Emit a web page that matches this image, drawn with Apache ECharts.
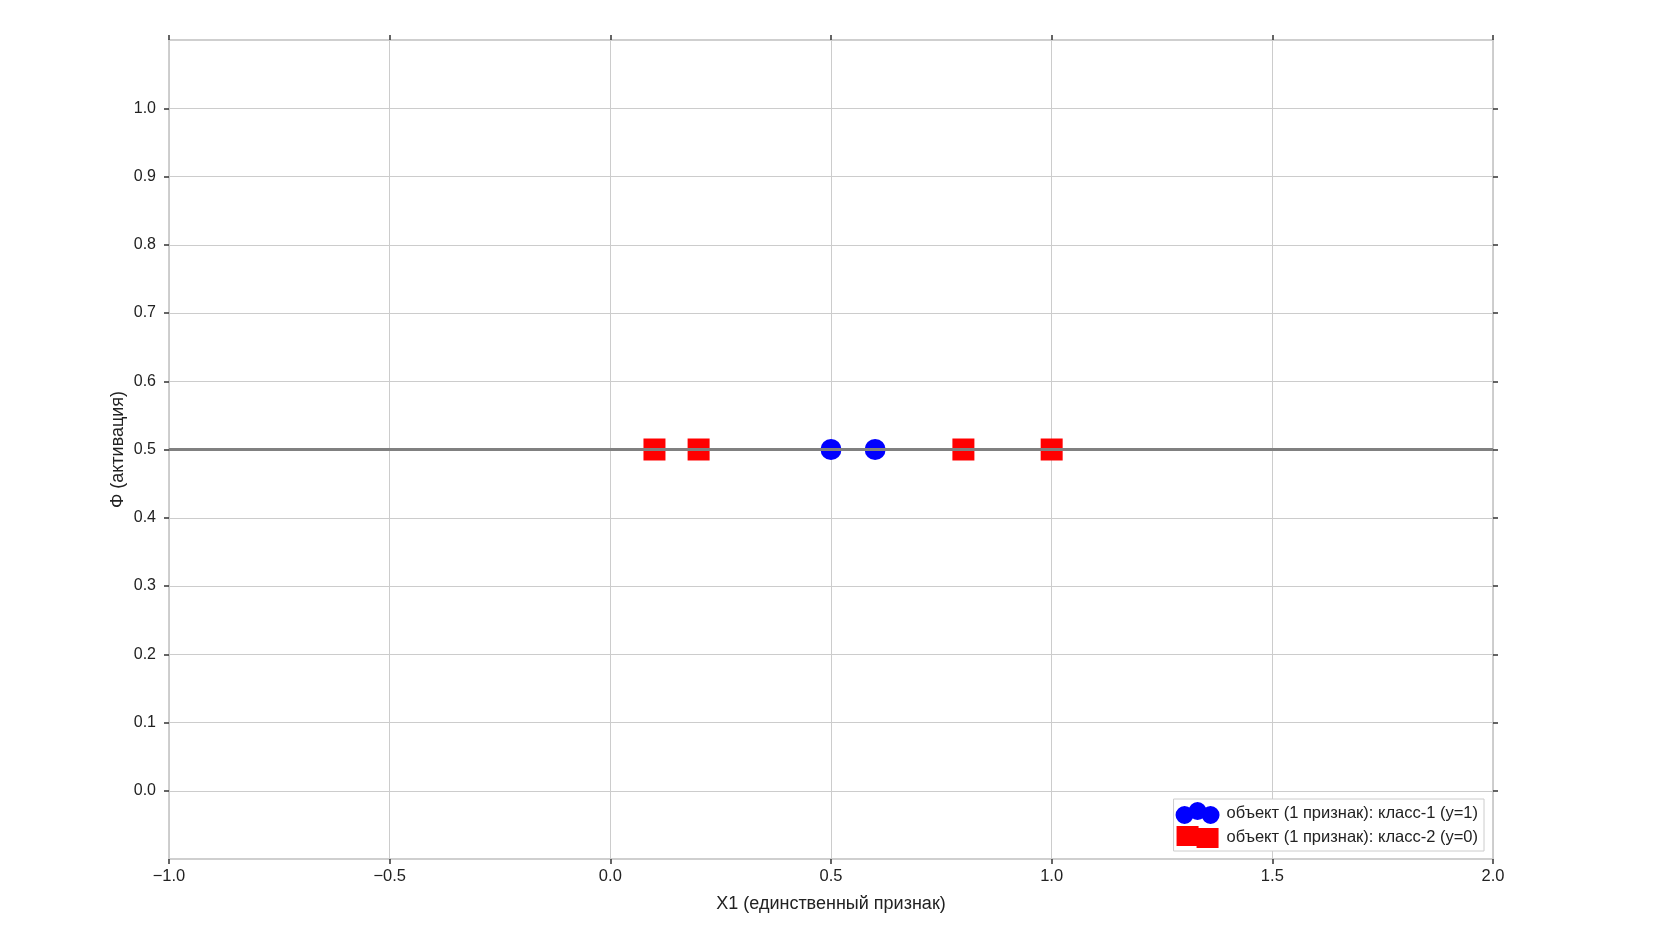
<!DOCTYPE html>
<html>
<head>
<meta charset="utf-8">
<script src="https://cdn.jsdelivr.net/npm/echarts@6/dist/echarts.min.js"></script>
<style>
html,body{margin:0;padding:0;background:#fff;}
#chart{width:1654px;height:930px;}
</style>
</head>
<body>
<div id="chart"></div>
<script>
// Data
const class1X = [0.5, 0.6];
const class1Y = [0.5, 0.5];
const class2X = [0.1, 0.2, 0.8, 1.0];
const class2Y = [0.5, 0.5, 0.5, 0.5];
const thresholdX = [-1.0, 2.0];
const thresholdY = [0.5, 0.5];
const xTicks = [-1.0, -0.5, 0.0, 0.5, 1.0, 1.5, 2.0];
const yTicks = [0.0, 0.1, 0.2, 0.3, 0.4, 0.5, 0.6, 0.7, 0.8, 0.9, 1.0];
const seriesNames = ['объект (1 признак): класс-1 (y=1)', 'объект (1 признак): класс-2 (y=0)'];
const xName = 'X1 (единственный признак)';
const yName = 'Φ (активация)';

const zip = (xs, ys) => xs.map((x, i) => [x, ys[i]]);
const font = 'Liberation Sans, Arial, sans-serif';
const tickColor = '#333';
const frameColor = '#cccccc';

const circlesIcon = 'path://M0,13a9,9 0 1,0 18,0a9,9 0 1,0 -18,0Z M13,9a9,9 0 1,0 18,0a9,9 0 1,0 -18,0Z M26,13a9,9 0 1,0 18,0a9,9 0 1,0 -18,0Z';
const squaresIcon = 'path://M0,0h22v20h-22Z M20,2h22v20h-22Z';

const tickAxisLine = { show: true, onZero: false, lineStyle: { color: frameColor, width: 1.5 } };

const chart = echarts.init(document.getElementById('chart'));
chart.setOption({
  animation: false,
  backgroundColor: '#fff',
  grid: {
    left: 169, right: 161, top: 40, bottom: 71,
    show: true, borderColor: frameColor, borderWidth: 1.5
  },
  legend: {
    right: 170, bottom: 79,
    orient: 'vertical',
    data: [
      { name: seriesNames[0], icon: circlesIcon },
      { name: seriesNames[1], icon: squaresIcon }
    ],
    itemWidth: 44, itemHeight: 22, itemGap: 2,
    padding: [3, 6, 3, 2],
    borderColor: frameColor, borderWidth: 1,
    backgroundColor: '#fff',
    textStyle: { fontFamily: font, fontSize: 16.5, color: '#222', padding: [0, 0, 0, 2] }
  },
  xAxis: [{
    type: 'value', position: 'bottom',
    min: -1.0, max: 2.0, interval: 0.5,
    name: xName, nameLocation: 'middle', nameGap: 36, nameMoveOverlap: false,
    nameTextStyle: { fontFamily: font, fontSize: 18, color: '#222' },
    axisLine: tickAxisLine,
    axisTick: { show: true, length: 5, lineStyle: { color: tickColor, width: 1.5 }, customValues: xTicks },
    axisLabel: { fontFamily: font, fontSize: 16.5, color: '#222', margin: 9,
      customValues: xTicks,
      formatter: v => (v < 0 ? '\u2212' : '') + Math.abs(v).toFixed(1) },
    splitLine: { show: true, lineStyle: { color: frameColor, width: 1 } }
  }, {
    type: 'value', position: 'top',
    min: -1.0, max: 2.0, interval: 0.5,
    axisLine: tickAxisLine,
    axisTick: { show: true, length: 5, lineStyle: { color: tickColor, width: 1.5 }, customValues: xTicks },
    axisLabel: { show: false },
    splitLine: { show: false }
  }],
  yAxis: [{
    type: 'value', position: 'left',
    min: -0.1, max: 1.1, interval: 0.1,
    name: yName, nameLocation: 'middle', nameGap: 42, nameRotate: 90, nameMoveOverlap: false,
    nameTextStyle: { fontFamily: font, fontSize: 18, color: '#222' },
    axisLine: tickAxisLine,
    axisTick: { show: true, length: 5, lineStyle: { color: tickColor, width: 1.5 }, customValues: yTicks },
    axisLabel: { fontFamily: font, fontSize: 16, color: '#222', margin: 13,
      customValues: yTicks,
      formatter: v => v.toFixed(1) },
    splitLine: { show: true, lineStyle: { color: frameColor, width: 1 } }
  }, {
    type: 'value', position: 'right',
    min: -0.1, max: 1.1, interval: 0.1,
    axisLine: tickAxisLine,
    axisTick: { show: true, length: 5, lineStyle: { color: tickColor, width: 1.5 }, customValues: yTicks },
    axisLabel: { show: false },
    splitLine: { show: false }
  }],
  series: [{
    name: seriesNames[0], type: 'scatter',
    data: zip(class1X, class1Y),
    symbol: 'circle', symbolSize: 21,
    itemStyle: { color: '#0000ff', opacity: 1 },
    z: 2
  }, {
    name: seriesNames[1], type: 'scatter',
    data: zip(class2X, class2Y),
    symbol: 'rect', symbolSize: 22,
    itemStyle: { color: '#ff0000', opacity: 1 },
    z: 2
  }, {
    name: 'threshold', type: 'line',
    data: zip(thresholdX, thresholdY),
    symbol: 'none',
    lineStyle: { color: '#808080', width: 3 },
    z: 3, silent: true
  }]
});
</script>
</body>
</html>
